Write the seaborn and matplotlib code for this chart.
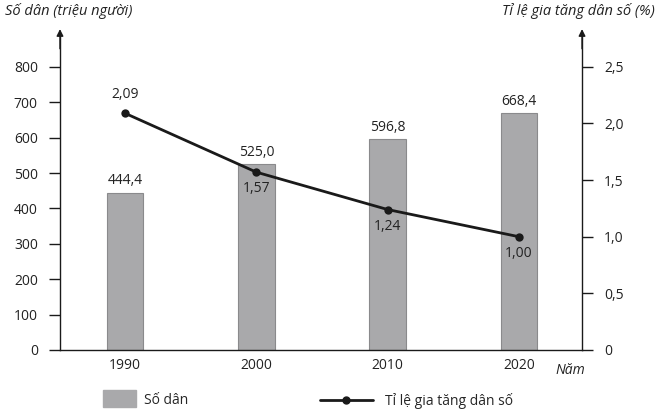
import matplotlib
matplotlib.use("Agg")
import matplotlib.pyplot as plt
import seaborn as sns
import pandas as pd
from matplotlib.patches import Patch
from matplotlib.lines import Line2D

# Data
years = ["1990", "2000", "2010", "2020"]
population = [444.4, 525.0, 596.8, 668.4]
growth_rate = [2.09, 1.57, 1.24, 1.00]
left_ticks = [0, 100, 200, 300, 400, 500, 600, 700, 800]
right_ticks = [0, 0.5, 1.0, 1.5, 2.0, 2.5]

sns.set_style("white")
plt.rcParams["font.family"] = ["Open Sans", "DejaVu Sans"]
plt.rcParams["font.size"] = 10

df = pd.DataFrame({"year": years, "pop": population, "rate": growth_rate})

fig = plt.figure(figsize=(6.57, 4.2), dpi=100)
ax = fig.add_axes([0.0913, 0.1667, 0.7946, 0.755])

sns.barplot(data=df, x="year", y="pop", ax=ax, color="#a9a9ab",
            edgecolor="#8a8a8c", linewidth=0.8, width=0.28, saturation=1)
ax.set_xlim(-0.496, 3.48)
ax.set_ylim(0, 896)
ax.set_yticks(left_ticks)
ax.set_xlabel("")
ax.set_ylabel("")

for i, v in enumerate(population):
    ax.text(i, v + 12, f"{v:.1f}".replace(".", ","), ha="center", va="bottom",
            fontsize=10, color="#222222")

ax2 = ax.twinx()
sns.lineplot(x=list(range(len(years))), y=growth_rate, ax=ax2, color="#1a1a1a",
             linewidth=2, marker="o", markersize=6, markeredgewidth=0)
ax2.set_ylim(0, 896 / 320)
ax2.set_yticks(right_ticks)
ax2.set_yticklabels([f"{t:.1f}".replace(".", ",") if t else "0" for t in right_ticks])
ax2.set_xlim(-0.496, 3.48)

for i, r in enumerate(growth_rate):
    txt = f"{r:.2f}".replace(".", ",")
    if i == 0:
        ax2.text(i, r + 0.1, txt, ha="center", va="bottom", fontsize=10, color="#222222")
    else:
        ax2.text(i, r - 0.08, txt, ha="center", va="top", fontsize=10, color="#222222")

# spines and ticks
for a in (ax, ax2):
    a.spines["top"].set_visible(False)
ax.spines["right"].set_visible(False)
ax2.spines["left"].set_visible(False)
ax2.spines["bottom"].set_visible(False)
for s in ("left", "bottom"):
    ax.spines[s].set_color("#1a1a1a")
    ax.spines[s].set_linewidth(1)
ax2.spines["right"].set_color("#1a1a1a")
ax2.spines["right"].set_linewidth(1)

ax.tick_params(axis="y", direction="out", length=8, width=1, color="#1a1a1a",
               left=True, labelsize=10, pad=8, labelcolor="#222222")
ax.tick_params(axis="x", length=0, pad=6, labelsize=10, labelcolor="#222222")
ax2.tick_params(axis="y", direction="out", length=8, width=1, color="#1a1a1a",
                right=True, labelsize=10, pad=8, labelcolor="#222222")

# arrows on the vertical axes
for xpos in (0, 1):
    ax.annotate("", xy=(xpos, 1.012), xytext=(xpos, 0.95), xycoords="axes fraction",
                arrowprops=dict(arrowstyle="-|>", color="#1a1a1a", lw=1,
                                mutation_scale=10, shrinkA=0, shrinkB=0))

# axis titles
fig.text(0.008, 0.955, "Số dân (triệu người)", style="italic", fontsize=10.5,
         ha="left", va="bottom", color="#222222")
fig.text(0.997, 0.955, "Tỉ lệ gia tăng dân số (%)", style="italic", fontsize=10.5,
         ha="right", va="bottom", color="#222222")
fig.text(0.845, 0.118, "Năm", style="italic", fontsize=10, ha="left", va="center",
         color="#222222")

# legend
handles = [Patch(facecolor="#a9a9ab", edgecolor="#a9a9ab"),
           Line2D([0], [0], color="#1a1a1a", lw=2, marker="o", markersize=5)]
fig.legend([handles[0]], ["Số dân"], loc="center left",
           bbox_to_anchor=(0.137, 0.05), frameon=False, fontsize=10,
           handlelength=2.4, handleheight=1.5, handletextpad=0.6)
fig.legend([handles[1]], ["Tỉ lệ gia tăng dân số"], loc="center left",
           bbox_to_anchor=(0.468, 0.045), frameon=False, fontsize=10,
           handlelength=3.8, handletextpad=0.9)

fig.savefig("out.png", dpi=100)
